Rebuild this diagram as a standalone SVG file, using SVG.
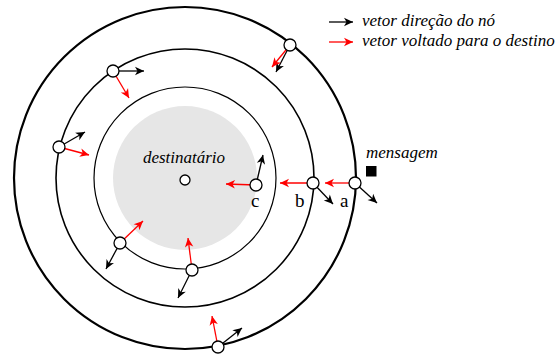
<svg xmlns="http://www.w3.org/2000/svg" width="556" height="356" viewBox="0 0 556 356">
  <style>
    .ring { fill: none; stroke: #000; }
    .node { fill: #fff; stroke: #000; stroke-width: 1.3; }
    .dir { stroke: #000; stroke-width: 1.3; fill: none; marker-end: url(#headK); }
    .dst { stroke: #f00; stroke-width: 1.3; fill: none; marker-end: url(#headR); }
    .it { font-family: "Liberation Serif", "Times New Roman", serif; font-style: italic; font-size: 17px; fill: #000; }
    .lbl { font-family: "Liberation Serif", "Times New Roman", serif; font-size: 19px; fill: #000; }
  </style>
  <defs>
    <marker id="headK" markerUnits="userSpaceOnUse" markerWidth="12" markerHeight="10" refX="10" refY="5" orient="auto" viewBox="0 0 12 10">
      <path d="M10,5 L1,0.8 L3.5,5 L1,9.2 Z" fill="#000"/>
    </marker>
    <marker id="headR" markerUnits="userSpaceOnUse" markerWidth="12" markerHeight="10" refX="10" refY="5" orient="auto" viewBox="0 0 12 10">
      <path d="M10,5 L1,0.8 L3.5,5 L1,9.2 Z" fill="#f00"/>
    </marker>
  </defs>

  <!-- destination region and rings -->
  <g id="destinatario">
    <circle cx="185" cy="178" r="72" fill="#e6e6e6"/>
    <circle cx="185" cy="180" r="5" class="node"/>
    <text x="184" y="163" class="it" text-anchor="middle">destinatário</text>
  </g>
  <g id="rings">
    <circle cx="185" cy="178" r="171" class="ring" stroke-width="2.2"/>
    <circle cx="185" cy="178" r="129" class="ring" stroke-width="1.6"/>
    <circle cx="185" cy="178" r="91" class="ring" stroke-width="1.2"/>
  </g>

  <!-- direction vectors (black) and vectors toward the destination (red) -->
  <g id="connectors">
    <line x1="355" y1="183" x2="377" y2="203" class="dir"/>
    <line x1="355" y1="183" x2="325" y2="183" class="dst"/>
    <line x1="313" y1="183" x2="333" y2="204" class="dir"/>
    <line x1="313" y1="183" x2="280" y2="183" class="dst"/>
    <line x1="256" y1="185" x2="263" y2="155" class="dir"/>
    <line x1="256" y1="185" x2="226" y2="184" class="dst"/>
    <line x1="113" y1="71" x2="144" y2="71" class="dir"/>
    <line x1="113" y1="71" x2="129" y2="98" class="dst"/>
    <line x1="59" y1="147" x2="85" y2="132" class="dir"/>
    <line x1="59" y1="147" x2="89" y2="155" class="dst"/>
    <line x1="120" y1="243" x2="106" y2="269" class="dir"/>
    <line x1="120" y1="243" x2="143" y2="221" class="dst"/>
    <line x1="192" y1="270" x2="178" y2="298" class="dir"/>
    <line x1="192" y1="270" x2="188" y2="238" class="dst"/>
    <line x1="218" y1="347" x2="242" y2="328" class="dir"/>
    <line x1="218" y1="347" x2="212" y2="316" class="dst"/>
    <line x1="290" y1="45" x2="276" y2="72" class="dir"/>
    <line x1="290" y1="45" x2="272" y2="67" class="dst"/>
  </g>

  <g id="node-a"><circle cx="355" cy="183" r="6" class="node"/><text x="340" y="207" class="lbl">a</text></g>
  <g id="node-b"><circle cx="313" cy="183" r="6" class="node"/><text x="295" y="207" class="lbl">b</text></g>
  <g id="node-c"><circle cx="256" cy="185" r="6" class="node"/><text x="251" y="207" class="lbl">c</text></g>
  <g id="node-1"><circle cx="113" cy="71" r="6" class="node"/></g>
  <g id="node-2"><circle cx="59" cy="147" r="6" class="node"/></g>
  <g id="node-3"><circle cx="120" cy="243" r="6" class="node"/></g>
  <g id="node-4"><circle cx="192" cy="270" r="6" class="node"/></g>
  <g id="node-5"><circle cx="218" cy="347" r="6" class="node"/></g>
  <g id="node-6"><circle cx="290" cy="45" r="6" class="node"/></g>

  <g id="mensagem">
    <text x="366" y="158" class="it">mensagem</text>
    <rect x="366" y="166" width="10.5" height="10.5" fill="#000"/>
  </g>

  <g id="legend">
    <line x1="329" y1="22" x2="353" y2="22" class="dir"/>
    <text x="362" y="26" class="it">vetor direção do nó</text>
    <line x1="329" y1="42" x2="353" y2="42" class="dst"/>
    <text x="362" y="46" class="it">vetor voltado para o destino</text>
  </g>
</svg>
